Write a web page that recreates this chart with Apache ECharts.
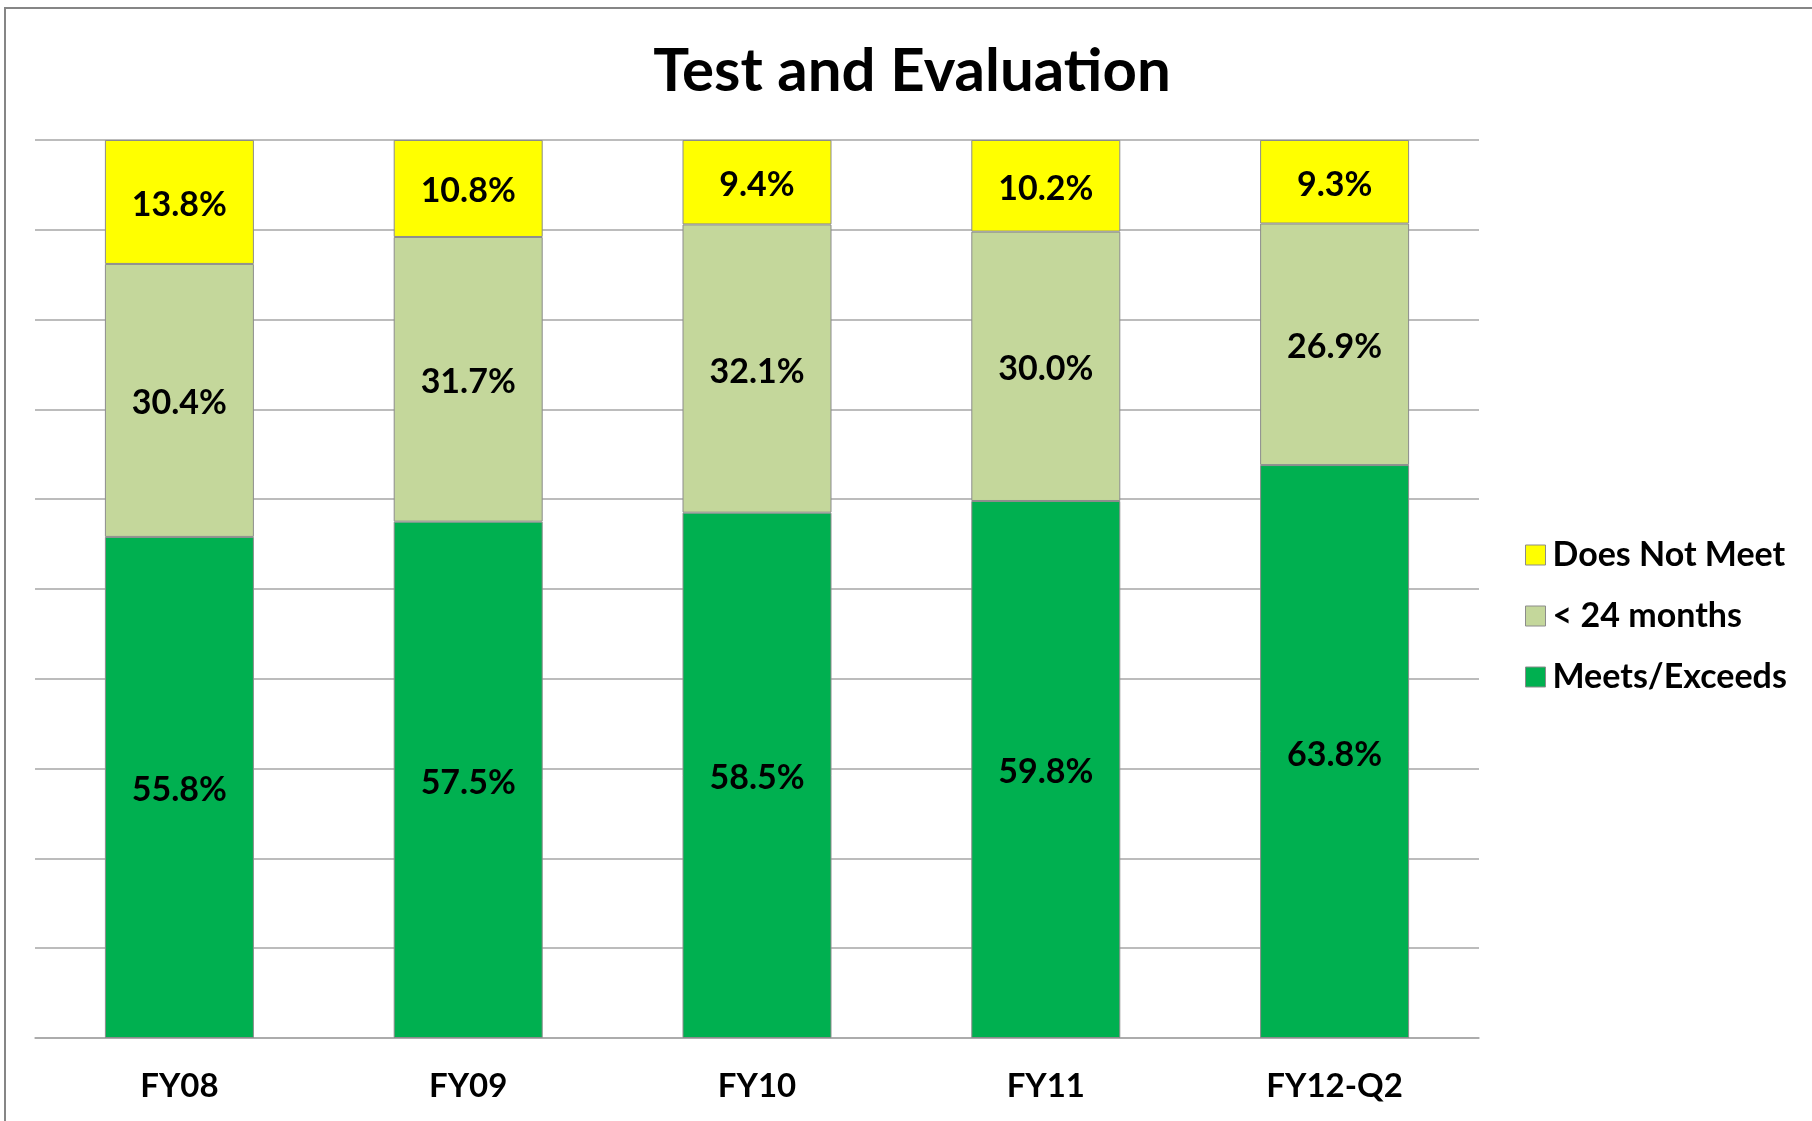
<!DOCTYPE html>
<html>
<head>
<meta charset="utf-8">
<style>
html, body { margin: 0; padding: 0; background: #fff; }
#chart { width: 1812px; height: 1121px; }
</style>
</head>
<body>
<div id="chart"></div>
<script src="https://cdn.jsdelivr.net/npm/echarts@6/dist/echarts.min.js"></script>
<script>
    // values, percent
    var categories = ["FY08", "FY09", "FY10", "FY11", "FY12-Q2"];
    var meetsExceeds = [55.8, 57.5, 58.5, 59.8, 63.8];
    var under24Months = [30.4, 31.7, 32.1, 30.0, 26.9];
    var doesNotMeet = [13.8, 10.8, 9.4, 10.2, 9.3];
    var legendNames = ["Does Not Meet", "< 24 months", "Meets/Exceeds"];

    var font = "Lato, 'Open Sans', sans-serif";

    function barSeries(name, data, color) {
        return {
            name: name,
            type: "bar",
            stack: "total",
            data: data,
            barWidth: 149,
            itemStyle: { color: color, borderColor: "#8c8c8c", borderWidth: 1 },
            label: {
                show: true,
                position: "inside",
                offset: [0, 3],
                color: "#000",
                fontFamily: font,
                fontWeight: "bold",
                fontSize: 34,
                formatter: function (p) { return p.value.toFixed(1) + "%"; }
            }
        };
    }

    var myChart = echarts.init(document.getElementById("chart"));
    var option = {
        backgroundColor: "#fff",
        animation: false,
        title: {
            text: "Test and Evaluation",
            left: 912,
            textAlign: "center",
            top: 42,
            padding: 0,
            textStyle: { fontFamily: font, fontWeight: "bold", fontSize: 60, color: "#000" }
        },
        legend: {
            orient: "vertical",
            left: 1520,
            top: 533,
            itemWidth: 20,
            itemHeight: 20,
            itemGap: 27,
            icon: "rect",
            data: legendNames,
            itemStyle: { borderColor: "#8c8c8c", borderWidth: 1 },
            textStyle: { fontFamily: font, fontWeight: "bold", fontSize: 34, lineHeight: 34, color: "#000", padding: [0, 0, 0, 2] }
        },
        grid: { left: 35, top: 140, width: 1444, height: 898 },
        xAxis: {
            type: "category",
            data: categories,
            axisLine: { lineStyle: { color: "#a6a6a6", width: 1.5 } },
            axisTick: { show: false },
            axisLabel: { margin: 32, color: "#000", fontFamily: font, fontWeight: "bold", fontSize: 33 }
        },
        yAxis: {
            type: "value",
            min: 0,
            max: 100,
            interval: 10,
            axisLabel: { show: false },
            axisLine: { show: false },
            axisTick: { show: false },
            splitLine: { lineStyle: { color: "#a6a6a6", width: 1.5 } }
        },
        series: [
            barSeries("Meets/Exceeds", meetsExceeds, "#00b050"),
            barSeries("< 24 months", under24Months, "#c4d79b"),
            barSeries("Does Not Meet", doesNotMeet, "#ffff00")
        ],
        graphic: [{
            type: "rect",
            shape: { x: 5, y: 8, width: 1900, height: 1200 },
            style: { fill: null, stroke: "#868686", lineWidth: 2 },
            silent: true
        }]
    };
    myChart.setOption(option);
</script>
</body>
</html>
